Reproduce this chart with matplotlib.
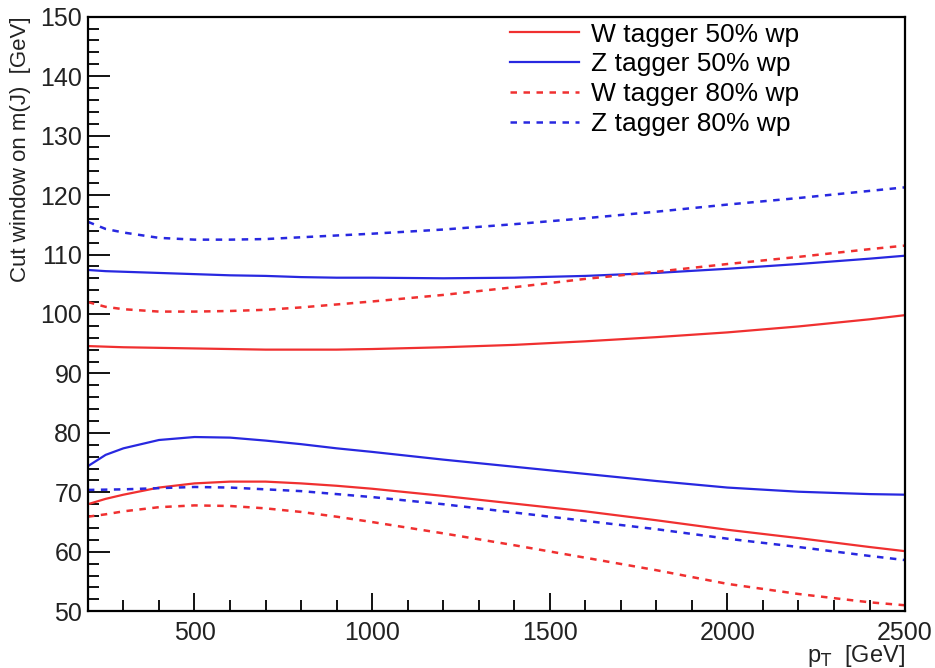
import matplotlib.pyplot as plt
from matplotlib.ticker import MultipleLocator

plt.rcParams['font.family'] = ['Liberation Sans', 'DejaVu Sans']

# jet pT points where the mass window edges are given
pt = [200, 250, 300, 400, 500, 600, 700, 800, 900, 1000,
      1200, 1400, 1600, 1800, 2000, 2200, 2400, 2500]

# upper / lower mass window edges [GeV]
w50_hi = [94.6, 94.5, 94.4, 94.3, 94.2, 94.1, 94.0, 94.0, 94.0, 94.1,
          94.4, 94.8, 95.4, 96.1, 96.9, 97.9, 99.1, 99.8]
w50_lo = [68.0, 68.9, 69.6, 70.8, 71.5, 71.8, 71.8, 71.5, 71.1, 70.6,
          69.4, 68.1, 66.8, 65.3, 63.7, 62.3, 60.8, 60.1]
z50_hi = [107.4, 107.2, 107.1, 106.9, 106.7, 106.5, 106.4, 106.2, 106.1, 106.1,
          106.0, 106.1, 106.4, 106.9, 107.6, 108.4, 109.3, 109.8]
z50_lo = [74.4, 76.3, 77.4, 78.8, 79.3, 79.2, 78.7, 78.1, 77.4, 76.8,
          75.5, 74.3, 73.1, 71.9, 70.8, 70.1, 69.7, 69.6]
w80_hi = [102.0, 101.2, 100.8, 100.4, 100.4, 100.5, 100.7, 101.1, 101.6, 102.1,
          103.2, 104.5, 105.9, 107.1, 108.4, 109.6, 110.9, 111.5]
w80_lo = [65.9, 66.3, 66.8, 67.5, 67.8, 67.7, 67.3, 66.7, 65.9, 65.0,
          63.1, 61.1, 59.0, 56.9, 54.6, 52.9, 51.5, 51.0]
z80_hi = [115.5, 114.3, 113.7, 112.8, 112.5, 112.5, 112.6, 112.9, 113.2, 113.5,
          114.2, 115.1, 116.1, 117.2, 118.4, 119.5, 120.7, 121.3]
z80_lo = [70.4, 70.45, 70.5, 70.7, 70.9, 70.8, 70.5, 70.2, 69.7, 69.2,
          68.0, 66.6, 65.2, 63.8, 62.2, 60.8, 59.3, 58.6]

red = '#f03030'
blue = '#2828e0'
dash = (0, (2.6, 2.6))

fig = plt.figure(figsize=(9.35, 6.68), dpi=100)
ax = fig.add_axes([0.094, 0.085, 0.874, 0.89])

ax.plot(pt, w50_hi, color=red, lw=1.6, label='W tagger 50% wp')
ax.plot(pt, w50_lo, color=red, lw=1.6)
ax.plot(pt, z50_hi, color=blue, lw=1.6, label='Z tagger 50% wp')
ax.plot(pt, z50_lo, color=blue, lw=1.6)
ax.plot(pt, w80_hi, color=red, lw=1.8, ls=dash, label='W tagger 80% wp')
ax.plot(pt, w80_lo, color=red, lw=1.8, ls=dash)
ax.plot(pt, z80_hi, color=blue, lw=1.8, ls=dash, label='Z tagger 80% wp')
ax.plot(pt, z80_lo, color=blue, lw=1.8, ls=dash)

ax.set_xlim(200, 2500)
ax.set_ylim(50, 150)

ax.xaxis.set_major_locator(MultipleLocator(500))
ax.xaxis.set_minor_locator(MultipleLocator(100))
ax.yaxis.set_major_locator(MultipleLocator(10))
ax.yaxis.set_minor_locator(MultipleLocator(2))

ax.tick_params(axis='both', which='both', direction='in', top=False, right=False,
               width=1.3, colors='black', labelcolor='#222222')
ax.tick_params(axis='y', which='major', length=16, pad=4, labelsize=18)
ax.tick_params(axis='y', which='minor', length=8)
ax.tick_params(axis='x', which='major', length=13, pad=7, labelsize=18)
ax.tick_params(axis='x', which='minor', length=8)
for s in ax.spines.values():
    s.set_linewidth(1.6)

ax.set_ylabel('Cut window on m(J)  [GeV]', fontsize=16, color='#222222')
ax.yaxis.set_label_coords(-0.07, 1.0)
ax.yaxis.label.set_horizontalalignment('right')
ax.set_xlabel(r'p$_{\rm T}$  [GeV]', fontsize=17, color='#222222')
ax.xaxis.set_label_coords(1.0, -0.054)
ax.xaxis.label.set_horizontalalignment('right')

ax.legend(loc='upper left', bbox_to_anchor=(0.517, 0.99), frameon=False,
          fontsize=19, handlelength=2.6, handletextpad=0.45, labelspacing=0.22,
          borderpad=0, borderaxespad=0)

fig.savefig('out.png', dpi=100)
